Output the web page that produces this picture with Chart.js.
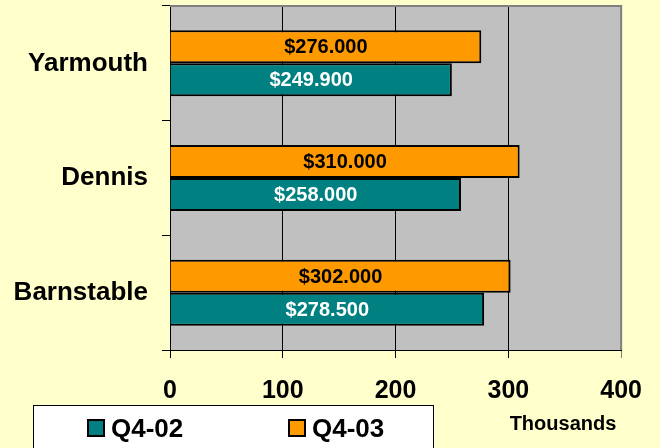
<!DOCTYPE html>
<html>
<head>
<meta charset="utf-8">
<script src="https://cdn.jsdelivr.net/npm/chart.js@4.4.1/dist/chart.umd.min.js"></script>
<style>
  html, body { margin: 0; padding: 0; background: #FFFFCC; }
  #wrap { position: relative; width: 660px; height: 448px; overflow: hidden; }
  #legend {
    position: absolute; left: 33px; top: 405px; width: 401px; height: 60px;
    background: #fff; border: 1px solid #000; box-sizing: border-box;
    font: bold 26px Arial, 'Liberation Sans', sans-serif; color: #000;
  }
  .item { position: absolute; top: 7px; height: 30px; line-height: 30px; }
  .box { position: absolute; top: 6px; width: 14px; height: 14px; border: 2px solid #000; }
  .item span.txt { position: absolute; left: 24px; top: 0; white-space: nowrap; }
  #unit {
    position: absolute; left: 470px; top: 412px; width: 186px; text-align: center;
    font: bold 20px Arial, 'Liberation Sans', sans-serif; color: #000;
  }
</style>
</head>
<body>
<div id="wrap">
  <canvas id="chart" width="660" height="448"></canvas>
  <div id="legend"></div>
  <div id="unit">Thousands</div>
</div>
<script>
// Data (values in thousands of dollars)
const towns = ['Yarmouth', 'Dennis', 'Barnstable'];
const q402 = [249.9, 258.0, 278.5];
const q403 = [276.0, 310.0, 302.0];
const xTicks = [0, 100, 200, 300, 400];

const teal = '#008080';
const orange = '#FF9900';
const font = "Arial, 'Liberation Sans', sans-serif";

// plot background + gray top/right border
const plotFrame = {
  id: 'plotFrame',
  beforeDraw(chart) {
    const { ctx, chartArea: a } = chart;
    ctx.save();
    ctx.fillStyle = '#C0C0C0';
    ctx.fillRect(a.left, a.top, a.right - a.left, a.bottom - a.top);
    ctx.restore();
  },
  beforeDatasetsDraw(chart) {
    const { ctx, chartArea: a } = chart;
    ctx.save();
    ctx.strokeStyle = '#808080';
    ctx.lineWidth = 2;
    ctx.beginPath();
    ctx.moveTo(a.left, a.top);
    ctx.lineTo(a.right, a.top);
    ctx.lineTo(a.right, a.bottom);
    ctx.stroke();
    ctx.restore();
  }
};

// value labels centred inside bars
const barLabels = {
  id: 'barLabels',
  afterDatasetsDraw(chart) {
    const { ctx } = chart;
    ctx.save();
    ctx.font = 'bold 20px ' + font;
    ctx.textAlign = 'center';
    ctx.textBaseline = 'middle';
    chart.data.datasets.forEach((ds, i) => {
      const meta = chart.getDatasetMeta(i);
      meta.data.forEach((bar, j) => {
        ctx.fillStyle = ds.labelColor;
        ctx.fillText('$' + ds.data[j].toFixed(3), (bar.base + bar.x) / 2, bar.y + 1);
      });
    });
    ctx.restore();
  }
};

new Chart(document.getElementById('chart'), {
  type: 'bar',
  data: {
    labels: towns,
    datasets: [
      { label: 'Q4-03', data: q403, backgroundColor: orange, borderColor: '#000', borderWidth: 2, labelColor: '#000' },
      { label: 'Q4-02', data: q402, backgroundColor: teal, borderColor: '#000', borderWidth: 2, labelColor: '#fff' }
    ]
  },
  options: {
    indexAxis: 'y',
    responsive: false,
    animation: false,
    layout: { padding: { top: 6, right: 36, bottom: 0, left: 0 } },
    datasets: { bar: { categoryPercentage: 0.575, barPercentage: 1 } },
    plugins: { legend: { display: false }, tooltip: { enabled: false } },
    scales: {
      x: {
        min: 0, max: 400,
        afterBuildTicks: s => { s.ticks = xTicks.map(v => ({ value: v })); },
        afterFit: s => { s.height = 98; },
        border: { color: '#000', width: 1 },
        grid: {
          color: c => (c.tick && c.tick.value === 400) ? '#808080' : '#000',
          lineWidth: 1,
          tickLength: 8
        },
        ticks: { color: '#000', padding: 18, font: { family: font, size: 25, weight: 'bold' } }
      },
      y: {
        afterFit: s => { s.width = 170; s.paddingTop = 0; s.paddingBottom = 0; },
        border: { color: '#000', width: 1 },
        grid: { drawOnChartArea: false, color: '#000', tickLength: 8 },
        ticks: { color: '#000', padding: 14, font: { family: font, size: 26, weight: 'bold' } }
      }
    }
  },
  plugins: [plotFrame, barLabels]
});

// legend box (Q4-02 first, as in the original)
const legendItems = [
  { label: 'Q4-02', color: teal, left: 53 },
  { label: 'Q4-03', color: orange, left: 254 }
];
const legend = document.getElementById('legend');
legendItems.forEach(it => {
  const d = document.createElement('div');
  d.className = 'item';
  d.style.left = it.left + 'px';
  d.innerHTML = '<div class="box" style="background:' + it.color + '"></div><span class="txt">' + it.label + '</span>';
  legend.appendChild(d);
});
</script>
</body>
</html>
